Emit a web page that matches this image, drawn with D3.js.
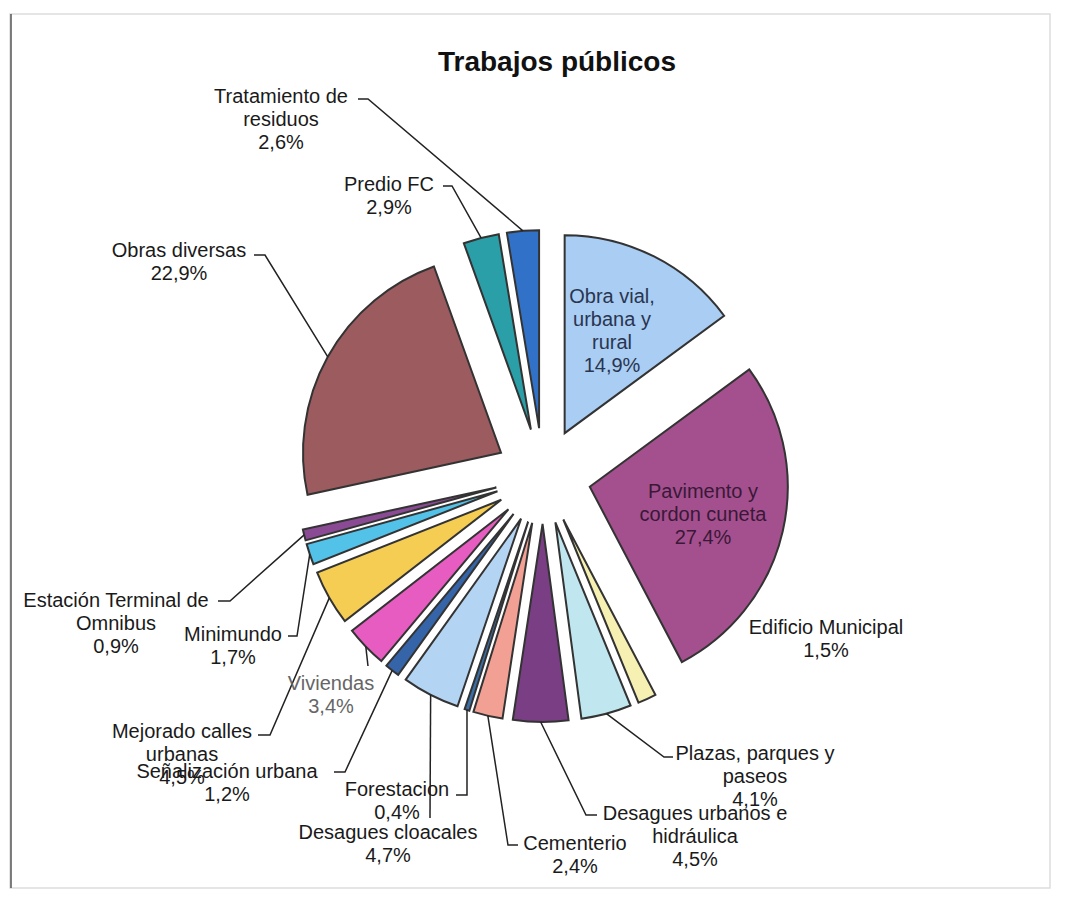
<!DOCTYPE html>
<html>
<head>
<meta charset="utf-8">
<script src="https://cdn.jsdelivr.net/npm/d3@7"></script>
<style>
  body { margin: 0; background: #fff; }
  text { font-family: "Liberation Sans", Arial, sans-serif; }
</style>
</head>
<body>
<svg id="chart" width="1065" height="900"></svg>
<script>
// data
const categories = [
  "Obra vial, urbana y rural", "Pavimento y cordon cuneta", "Edificio Municipal",
  "Plazas, parques y paseos", "Desagues urbanos e hidráulica", "Cementerio",
  "Forestacion", "Desagues cloacales", "Señalización urbana", "Viviendas",
  "Mejorado calles urbanas", "Minimundo", "Estación Terminal de Omnibus",
  "Obras diversas", "Predio FC", "Tratamiento de residuos"
];
const values = [14.9, 27.4, 1.5, 4.1, 4.5, 2.4, 0.4, 4.7, 1.2, 3.4, 4.5, 1.7, 0.9, 22.9, 2.9, 2.6];
const labelLines = [
  ["Obra vial,", "urbana y", "rural"], ["Pavimento y", "cordon cuneta"], ["Edificio Municipal"],
  ["Plazas, parques y", "paseos"], ["Desagues urbanos e", "hidráulica"], ["Cementerio"],
  ["Forestacion"], ["Desagues cloacales"], ["Señalización urbana"], ["Viviendas"],
  ["Mejorado calles", "urbanas"], ["Minimundo"], ["Estación Terminal de", "Omnibus"],
  ["Obras diversas"], ["Predio FC"], ["Tratamiento de", "residuos"]
];

// styles
const colors = [
  "#a9cdf3", "#a4508e", "#f6f1b2", "#c0e7ef", "#7a3e84", "#f1a093",
  "#3a6ea6", "#b4d4f4", "#3565a8", "#e65cc0", "#f5cd52", "#52c2e8",
  "#8a4b94", "#9c5b5f", "#2a9fa8", "#3172c8"
];
// label layout: text centre (first line), leader elbow and dash end
const labelLayout = [
  { tx: 612, ty: 296, inside: true, fill: "#2a3550" },
  { tx: 703, ty: 491, inside: true, fill: "#3a1838" },
  { tx: 826, ty: 627 },
  { tx: 755, ty: 753, ex: 664, ey: 757, dx: 673 },
  { tx: 695, ty: 813, ex: 586, ey: 815, dx: 597 },
  { tx: 575, ty: 843, ex: 508, ey: 845, dx: 518 },
  { tx: 397, ty: 789, ex: 467, ey: 795, dx: 456 },
  { tx: 388, ty: 832, ex: 430, ey: 818, dx: 430 },
  { tx: 227, ty: 771, ex: 345, ey: 772, dx: 334 },
  { tx: 331, ty: 683, ex: 368, ey: 666, dx: 368, fill: "#666" },
  { tx: 182, ty: 731, ex: 270, ey: 735, dx: 258 },
  { tx: 233, ty: 634, ex: 297, ey: 636, dx: 288 },
  { tx: 116, ty: 600, ex: 230, ey: 601, dx: 218 },
  { tx: 179, ty: 250, ex: 265, ey: 255, dx: 254 },
  { tx: 389, ty: 184, ex: 452, ey: 186, dx: 443 },
  { tx: 281, ty: 96, ex: 368, ey: 99, dx: 358 }
];

const svg = d3.select("#chart");
const cx = 543, cy = 476, radius = 198, explode = 48;
const fontSize = 20, lineH = 23;
const fmt = v => d3.format(".1f")(v).replace(".", ",") + "%";

// scan frame
svg.append("rect").attr("x", 10).attr("y", 14).attr("width", 1040).attr("height", 874)
  .attr("fill", "none").attr("stroke", "#ddd").attr("stroke-width", 1.5);
svg.append("line").attr("x1", 11).attr("x2", 11).attr("y1", 14).attr("y2", 888)
  .attr("stroke", "#555").attr("stroke-width", 1.5);

svg.append("text")
  .attr("x", 557).attr("y", 71)
  .attr("text-anchor", "middle")
  .attr("font-size", 28).attr("font-weight", "bold").attr("fill", "#111")
  .text("Trabajos públicos");

const data = categories.map((c, i) => ({ name: c, value: values[i], i }));
const pie = d3.pie().sort(null).value(d => d.value);
const arcs = pie(data);
const arc = d3.arc().innerRadius(0).outerRadius(radius);

const mid = d => (d.startAngle + d.endAngle) / 2;
const offset = (d, r) => [Math.sin(mid(d)) * r, -Math.cos(mid(d)) * r];

const g = svg.append("g").attr("transform", `translate(${cx},${cy})`);

g.selectAll("path.slice")
  .data(arcs)
  .join("path")
  .attr("class", "slice")
  .attr("transform", d => `translate(${offset(d, explode)})`)
  .attr("d", arc)
  .attr("fill", d => colors[d.data.i])
  .attr("stroke", "#333")
  .attr("stroke-width", 2)
  .attr("stroke-linejoin", "miter");

// leader lines
arcs.forEach(d => {
  const L = labelLayout[d.data.i];
  if (L.inside || L.ex === undefined) return;
  const [px, py] = offset(d, radius + explode);
  svg.append("path")
    .attr("d", d3.line()([[cx + px, cy + py], [L.ex, L.ey], [L.dx, L.ey]]))
    .attr("fill", "none").attr("stroke", "#222").attr("stroke-width", 1.5);
});

// labels
arcs.forEach(d => {
  const L = labelLayout[d.data.i];
  const lines = labelLines[d.data.i].concat([fmt(d.data.value)]);
  const t = svg.append("text")
    .attr("text-anchor", "middle")
    .attr("font-size", fontSize)
    .attr("fill", L.fill || "#1a1a1a");
  lines.forEach((s, k) => {
    t.append("tspan").attr("x", L.tx).attr("y", L.ty + k * lineH).attr("dy", "0.35em").text(s);
  });
});
</script>
</body>
</html>
